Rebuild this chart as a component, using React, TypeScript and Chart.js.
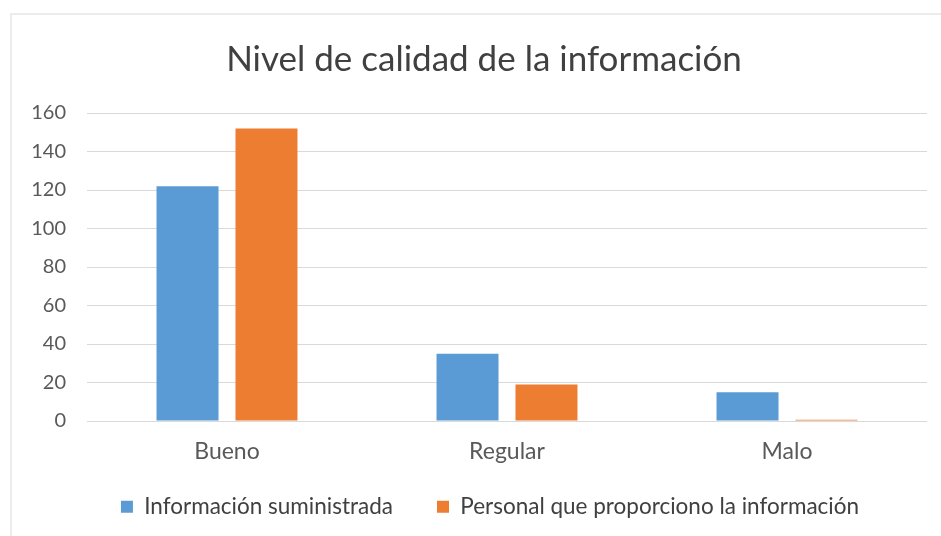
import React, { useEffect, useRef } from "react";
import { Chart, registerables } from "chart.js";

Chart.register(...registerables);

const categories = ["Bueno", "Regular", "Malo"];
const seriesInformacion = [122, 35, 15];
const seriesPersonal = [152, 19, 0.6];
const seriesNames = ["Información suministrada", "Personal que proporciono la información"];
const yTicks = [0, 20, 40, 60, 80, 100, 120, 140, 160];
const titleText = "Nivel de calidad de la información";

const LEGEND_GAP = 44;
const LEGEND_SHIFT_Y = 15.5;
const LEGEND_SHIFT_X = 12;
const TITLE_SHIFT_X = 6;
const LEGEND_HEIGHT = 60;

const boxTweak = {
  id: "boxTweak",
  afterInit(chart: any) {
    const legend = chart.legend;
    if (legend) {
      const origFit = legend.fit.bind(legend);
      legend.fit = function () {
        origFit();
        this.height = LEGEND_HEIGHT;
      };
      const origDraw = legend.draw.bind(legend);
      legend.draw = function (area: any) {
        const { top, left, right } = this;
        this.top = top - LEGEND_SHIFT_Y;
        this.left = left + LEGEND_SHIFT_X;
        this.right = right + LEGEND_SHIFT_X;
        origDraw(area);
        this.top = top;
        this.left = left;
        this.right = right;
      };
    }
    const title = chart.titleBlock;
    if (title) {
      const origDraw = title.draw.bind(title);
      title.draw = function (area: any) {
        const { left, right } = this;
        this.left = left + TITLE_SHIFT_X;
        this.right = right + TITLE_SHIFT_X;
        origDraw(area);
        this.left = left;
        this.right = right;
      };
    }
  },
};

export default function App() {
  const ref = useRef<HTMLCanvasElement | null>(null);
  useEffect(() => {
    if (!ref.current) return;
    const font = "Lato, 'Open Sans', sans-serif";
    const chart = new Chart(ref.current, {
      type: "bar",
      data: {
        labels: categories,
        datasets: [
          { label: seriesNames[0], data: seriesInformacion, backgroundColor: "#5b9bd5" },
          { label: seriesNames[1], data: seriesPersonal, backgroundColor: "#ed7d31" },
        ],
      },
      plugins: [boxTweak],
      options: {
        animation: false,
        responsive: false,
        maintainAspectRatio: false,
        datasets: { bar: { categoryPercentage: 0.564, barPercentage: 0.785 } },
        layout: { padding: { left: 29, right: 14, top: 39, bottom: 9 } },
        plugins: {
          title: {
            display: true,
            text: titleText,
            color: "#404040",
            font: { family: font, size: 35, weight: "normal" },
            padding: { top: 0, bottom: 32 },
          },
          legend: {
            position: "bottom",
            labels: {
              color: "#404040",
              font: { family: font, size: 22.5 },
              boxWidth: 12,
              boxHeight: 12,
              padding: LEGEND_GAP,
            },
          },
          tooltip: { enabled: false },
        },
        scales: {
          x: {
            afterFit: (axis: any) => {
              axis.height = 46;
            },
            grid: { display: false, drawTicks: false },
            border: { display: false },
            ticks: { color: "#595959", font: { family: font, size: 23 }, padding: 17 },
          },
          y: {
            min: 0,
            max: 160,
            afterFit: (axis: any) => {
              axis.width = 58;
            },
            afterBuildTicks: (axis: any) => {
              axis.ticks = yTicks.map((v) => ({ value: v }));
            },
            grid: { color: "#d9d9d9", lineWidth: 1, drawTicks: false },
            border: { display: false },
            ticks: { color: "#595959", font: { family: font, size: 20 }, padding: 21 },
          },
        },
      },
    });
    return () => chart.destroy();
  }, []);
  return (
    <div style={{ position: "fixed", left: 0, top: 0, width: 941, height: 536, background: "#fff" }}>
      <div
        style={{
          position: "absolute",
          left: 10,
          top: 13,
          width: 960,
          height: 560,
          borderLeft: "2px solid #ececec",
          borderTop: "2px solid #ececec",
        }}
      />
      <canvas ref={ref} width={941} height={536} style={{ position: "absolute", left: 0, top: 0 }} />
    </div>
  );
}
